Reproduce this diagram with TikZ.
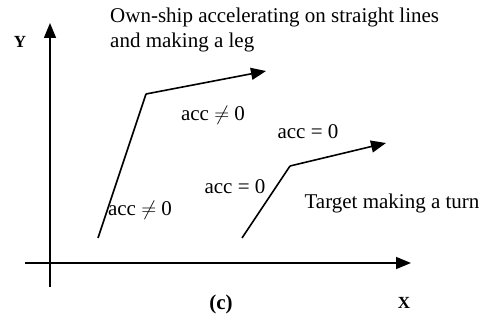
\documentclass[tikz,border=0pt]{standalone}
\usepackage{fontspec}
\setmainfont{Liberation Serif}
\usetikzlibrary{arrows.meta}
\begin{document}
\begin{tikzpicture}[x=1pt,y=-1pt,
  line/.style={line width=1.6pt},
  arr/.style={line, -{Triangle[length=15pt,width=12pt]}},
  lbl/.style={font=\fontsize{21}{25}\selectfont, inner sep=0pt},
  axlbl/.style={font=\fontsize{17}{20}\selectfont\bfseries, inner sep=0pt},
  caplbl/.style={font=\fontsize{21}{25}\selectfont\bfseries, inner sep=0pt}]
\useasboundingbox (0,0) rectangle (488,328);
% axes
\coordinate (ybot) at (50,287);
\coordinate (ytop) at (50,23);
\coordinate (xleft) at (25,263);
\coordinate (xright) at (411,263);
\draw[arr] (ybot) -- (ytop);
\draw[arr] (xleft) -- (xright);
\node[axlbl] (ylab) at (20,42) {Y};
\node[axlbl] (xlab) at (404,303) {X};
\node[caplbl] (cap) at (221,304) {(c)};
% own-ship
\coordinate (o1) at (98,238);
\coordinate (o2) at (146,94);
\coordinate (o3) at (266,71);
\draw[line] (o1) -- (o2);
\draw[arr] (o2) -- (o3);
% target
\coordinate (t1) at (242,238);
\coordinate (t2) at (290,166);
\coordinate (t3) at (386,143);
\draw[line] (t1) -- (t2);
\draw[arr] (t2) -- (t3);
% labels
\node[lbl, anchor=west, align=left] (own) at (110,30) {Own-ship accelerating on straight lines\\and making a leg};
\node[lbl] (a1) at (213,115) {acc $\neq$ 0};
\node[lbl] (a2) at (140,210) {acc $\neq$ 0};
\node[lbl] (a3) at (308,132) {acc = 0};
\node[lbl] (a4) at (235,187) {acc = 0};
\node[lbl] (tgt) at (392,203) {Target making a turn};
\end{tikzpicture}
\end{document}
